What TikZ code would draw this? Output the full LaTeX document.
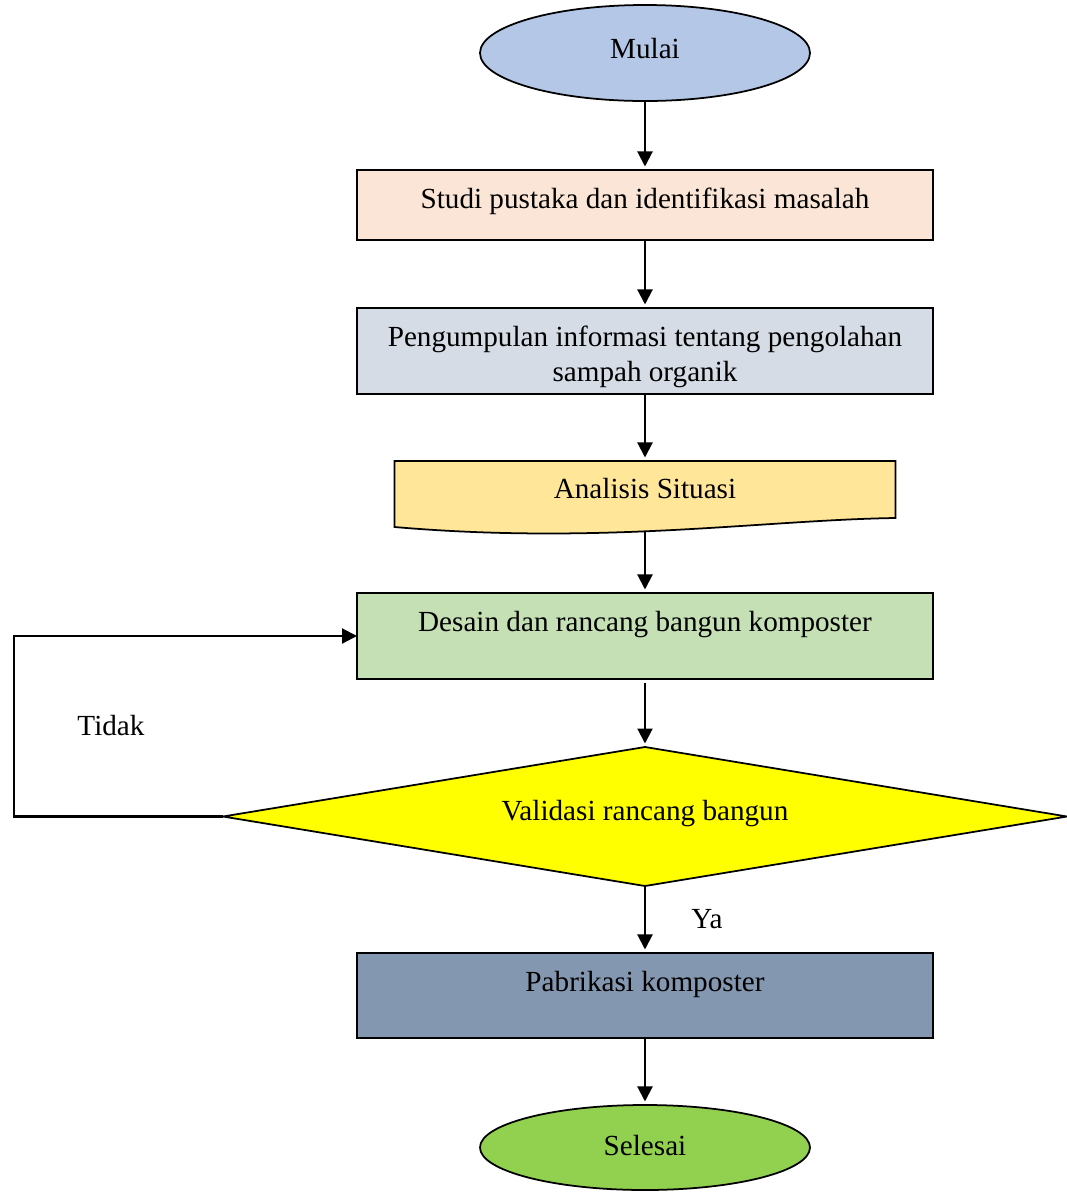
\documentclass[tikz,border=0pt]{standalone}
\usepackage{fontspec}
\setmainfont{Liberation Serif}
\usepackage{tikz}
\usetikzlibrary{shapes.geometric, arrows.meta, positioning, calc, backgrounds}
\definecolor{myblue}{RGB}{180,199,231}
\definecolor{mypeach}{RGB}{251,229,214}
\definecolor{mygrey}{RGB}{214,220,229}
\definecolor{mygold}{RGB}{255,230,153}
\definecolor{mygreen}{RGB}{197,224,180}
\definecolor{myyellow}{RGB}{255,255,0}
\definecolor{myslate}{RGB}{132,151,176}
\definecolor{mylime}{RGB}{146,208,80}
\newcommand{\flowfont}{\fontsize{16.6}{20}\selectfont}
\tikzset{
  startstop/.style={ellipse, draw=black, minimum width=6.6cm, outer sep=0pt,
    font=\flowfont, line width=1pt, text height=0.4cm},
  block/.style={rectangle, draw=black, minimum width=11.52cm, outer sep=0pt,
    minimum height=1.72cm, align=center, font=\flowfont,
    line width=1pt, text height=0.4cm},
  docbox/.style={rectangle, minimum width=10.02cm, minimum height=1.4cm,
    outer sep=0pt, font=\flowfont, text height=0.4cm},
  decision/.style={diamond, draw=black, fill=myyellow, aspect=6,
    minimum width=16.88cm, minimum height=2.78cm, inner sep=0pt, outer sep=0pt,
    font=\flowfont, line width=1pt, text height=0.4cm},
  arrow/.style={-{Triangle[length=0.3cm,width=0.3cm]}, line width=1.2pt, color=black},
  lbl/.style={font=\flowfont, anchor=base}
}
\begin{document}
\begin{tikzpicture}
  \useasboundingbox (0,0) rectangle (21.32,-23.86);

  \node[startstop, fill=myblue, minimum height=1.92cm, text depth=0.2cm] (mulai) at (12.9,-1.06) {Mulai};
  \node[block, fill=mypeach, minimum height=1.4cm, text depth=0.28cm, below=1.38cm of mulai] (studi) {Studi pustaka dan identifikasi masalah};
  \node[block, fill=mygrey, inner ysep=0pt, text height=1.36cm, text depth=0.13cm, below=1.36cm of studi] (kumpul) {Pengumpulan informasi tentang pengolahan\\ sampah organik};
  \node[docbox, text depth=0.32cm, below=1.34cm of kumpul] (analisis) {Analisis Situasi};
  \node[block, fill=mygreen, text depth=0.6cm, below=1.24cm of analisis] (desain) {Desain dan rancang bangun komposter};
  \node[decision, text depth=0.26cm, below=1.36cm of desain] (valid) {Validasi rancang bangun};
  \node[block, fill=myslate, minimum height=1.7cm, text depth=0.58cm, below=1.34cm of valid] (pabrik) {Pabrikasi komposter};
  \node[startstop, fill=mylime, minimum height=1.7cm, text depth=0.1cm, below=1.34cm of pabrik] (selesai) {Selesai};

  % document shape behind the text
  \begin{scope}[on background layer]
    \draw[fill=mygold, line width=1pt] (analisis.north west) -- (analisis.north east)
      -- ($(analisis.north east)+(0,-1.14)$)
      .. controls ($(analisis.north east)+(-2.66,-1.18)$) and ($(analisis.north west)+(4.16,-1.68)$)
      .. ($(analisis.north west)+(0,-1.32)$) -- cycle;
  \end{scope}

  \draw[arrow, shorten >=2pt] (mulai) -- (studi);
  \draw[arrow, shorten >=2pt] (studi) -- (kumpul);
  \draw[arrow, shorten >=2pt] (kumpul) -- (analisis);
  \draw[arrow, shorten >=2pt] (analisis) -- (desain);
  \draw[arrow, shorten >=2pt, shorten <=2pt] (desain) -- (valid);
  \draw[arrow, shorten >=2pt] (valid) -- (pabrik);
  \draw[arrow, shorten >=2pt] (pabrik) -- (selesai);

  % loop back
  \draw[arrow] (valid.west) -- ++(-4.18,0) |- (desain.west);
  \node[lbl] (tidak) at (2.22,-14.7) {Tidak};
  \node[lbl] (ya) at (14.14,-18.56) {Ya};
\end{tikzpicture}
\end{document}
